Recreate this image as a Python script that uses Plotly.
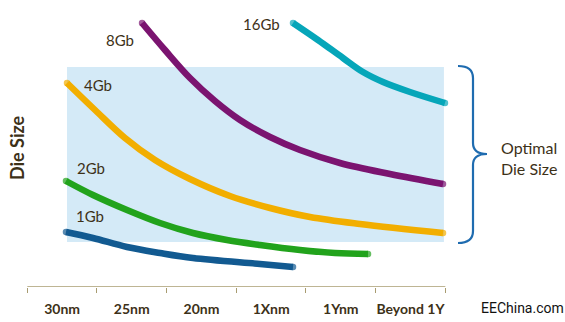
import plotly.graph_objects as go

# Process nodes along the x axis (category slots 0..5, centered at +0.5)
nodes = ["30nm", "25nm", "20nm", "1Xnm", "1Ynm", "Beyond 1Y"]
node_pos = [0.5, 1.5, 2.5, 3.5, 4.5, 5.5]

# Die size trend per density (x in node units, y in relative die-size units)
gb1_x = [0.555, 0.943, 1.431, 1.905, 2.378, 3.340, 3.814]
gb1_y = [55, 49, 40, 34, 29, 23, 20]

gb2_x = [0.555, 0.943, 1.431, 1.905, 2.378, 2.866, 3.340, 3.914, 4.416, 4.890]
gb2_y = [106, 92, 77, 64, 54, 47, 42, 37, 34, 33]

gb4_x = [0.570, 0.972, 1.402, 1.833, 2.335, 2.909, 3.484, 4.058, 4.776, 5.967]
gb4_y = [204, 177, 149, 127, 108, 91, 79, 70, 63, 54]

gb8_x = [1.647, 1.976, 2.335, 2.694, 3.053, 3.484, 3.914, 4.488, 5.206, 5.967]
gb8_y = [264, 237, 209, 186, 167, 150, 137, 124, 113, 103]

gb16_x = [3.814, 4.172, 4.531, 4.818, 5.106, 5.493, 5.995]
gb16_y = [264, 247, 229, 215, 205, 195, 184]

series = [
    ("1Gb", gb1_x, gb1_y, "#125a91"),
    ("2Gb", gb2_x, gb2_y, "#22a31c"),
    ("4Gb", gb4_x, gb4_y, "#f2ae00"),
    ("8Gb", gb8_x, gb8_y, "#7b1470"),
    ("16Gb", gb16_x, gb16_y, "#06a6b9"),
]

# Optimal die-size band
band_x = [0.57, 5.98]
band_y = [45, 220]

TXT = "#3d3118"
FONT = "Lato"

W, H = 565, 322
B = 35
unit = 69.67
x0 = -27.3 / unit
x1 = (W - 27.3) / unit


def px_x(p):
    return (p - 27.3) / unit


def px_y(p):
    return (H - B) - p


fig = go.Figure()

fig.add_shape(type="rect", xref="x", yref="y",
              x0=band_x[0], x1=band_x[1], y0=band_y[0], y1=band_y[1],
              fillcolor="#d4eaf7", line_width=0, layer="below")

for name, xs, ys, col in series:
    sizes = [0] * len(xs)
    sizes[0] = 6.5
    sizes[-1] = 6.5
    fig.add_trace(go.Scatter(
        x=xs, y=ys, name=name, mode="lines+markers",
        line=dict(color=col, width=6.5, shape="spline", smoothing=1.0),
        marker=dict(color=col, size=sizes, line_width=0),
        hoverinfo="skip", showlegend=False,
    ))

# Series labels
labels = [("1Gb", 90, 216), ("2Gb", 91, 168), ("4Gb", 98, 85),
          ("8Gb", 120, 40), ("16Gb", 261, 24)]
for t, lx, ly in labels:
    fig.add_annotation(x=px_x(lx), y=px_y(ly), xref="x", yref="y", text=t,
                       showarrow=False, font=dict(family=FONT, size=15, color=TXT))

# Baseline axis line
fig.add_shape(type="line", xref="x", yref="y", x0=0, x1=6, y0=0, y1=0,
              line=dict(color="#a89c70", width=1.5))

# Brace beside the band
bx = px_x
by = px_y
brace = (
    f"M {bx(458)},{by(66)} "
    f"Q {bx(473)},{by(66)} {bx(473)},{by(78)} "
    f"L {bx(473)},{by(143)} "
    f"Q {bx(473)},{by(154)} {bx(487)},{by(154)} "
    f"Q {bx(473)},{by(154)} {bx(473)},{by(165)} "
    f"L {bx(473)},{by(231)} "
    f"Q {bx(473)},{by(243)} {bx(458)},{by(243)}"
)
fig.add_shape(type="path", xref="x", yref="y", path=brace,
              line=dict(color="#1f6cb0", width=2.2))

fig.add_annotation(x=px_x(499), y=px_y(158), xref="x", yref="y", xanchor="left",
                   text="Optimal<br>Die Size", showarrow=False, align="left",
                   font=dict(family=FONT, size=16, color=TXT))

fig.add_annotation(x=17 / W, y=(H - B - 148) / (H - B), xref="paper", yref="paper",
                   xanchor="center", yanchor="middle",
                   text="<b>Die Size</b>", textangle=-90, showarrow=False,
                   font=dict(family=FONT, size=18, color=TXT))

fig.add_annotation(x=522 / W, y=-(308 - (H - B)) / (H - B), xref="paper", yref="paper",
                   xanchor="center", yanchor="middle",
                   text="EEChina.com", showarrow=False,
                   font=dict(family="Liberation Sans Narrow, Roboto", size=14, color="#111111"))

fig.update_layout(
    width=W, height=H,
    margin=dict(l=0, r=0, t=0, b=B),
    paper_bgcolor="white", plot_bgcolor="white",
    xaxis=dict(range=[x0, x1], showgrid=False, zeroline=False, showline=False,
               tickmode="array", tickvals=node_pos, ticktext=nodes, ticks="",
               ticklabelstandoff=12,
               tickfont=dict(family=FONT, size=14, color=TXT, weight="bold"),
               minor=dict(tickmode="array", tickvals=[0, 1, 2, 3, 4, 5, 6],
                          ticks="outside", ticklen=5, tickcolor="#a89c70",
                          tickwidth=1.2, showgrid=False),
               fixedrange=True),
    yaxis=dict(range=[0, H - B], visible=False, fixedrange=True),
)

fig.write_html("out.html")
